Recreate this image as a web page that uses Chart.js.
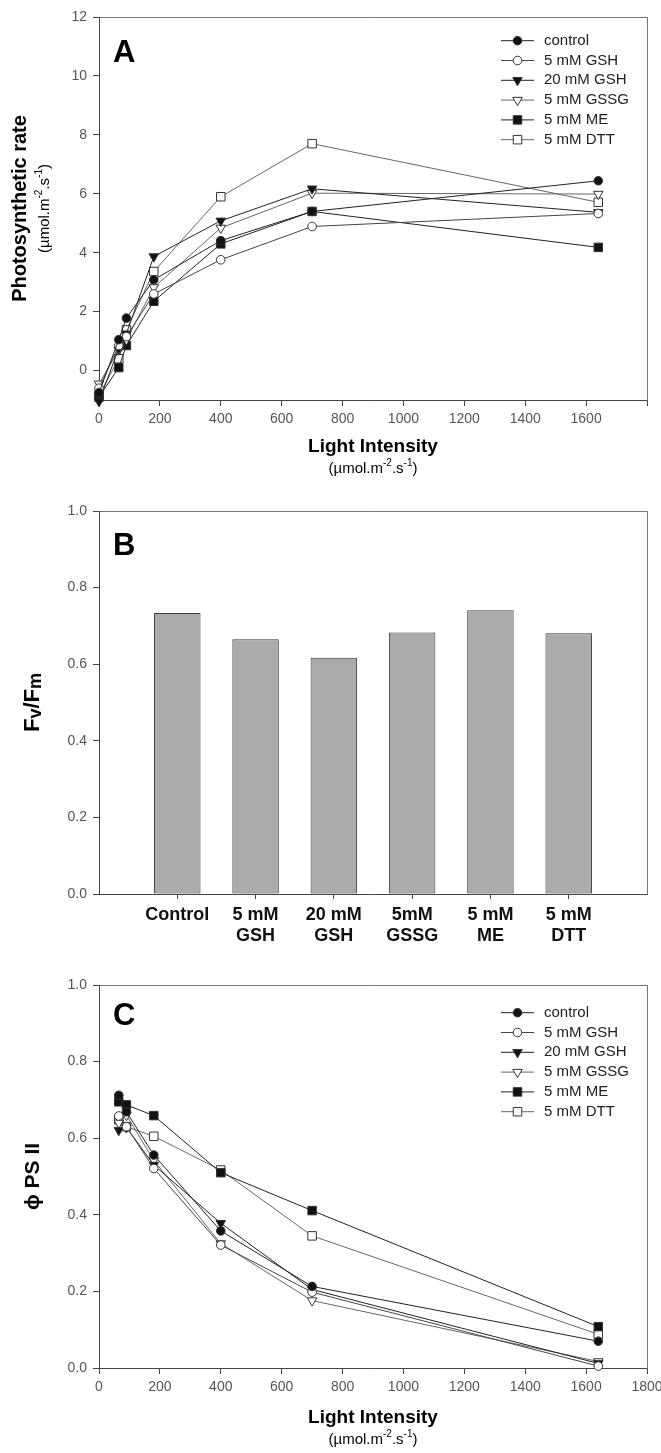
<!DOCTYPE html>
<html>
<head>
<meta charset="utf-8">
<script src="https://cdn.jsdelivr.net/npm/chart.js@4.4.1/dist/chart.umd.min.js"></script>
<style>
  body { margin: 0; background: #fff; }
  #wrap { position: relative; width: 661px; height: 1453px; background: #fff; }
  canvas { position: absolute; left: 0; }
</style>
</head>
<body>
<div id="wrap">
  <canvas id="chartA" width="661" height="480" style="top:0"></canvas>
  <canvas id="chartB" width="661" height="480" style="top:480px"></canvas>
  <canvas id="chartC" width="661" height="493" style="top:960px"></canvas>
</div>
<script>
// ---- data ----
const seriesNames = ["control", "5 mM GSH", "20 mM GSH", "5 mM GSSG", "5 mM ME", "5 mM DTT"];

// panel A: photosynthetic rate vs light
const lightA = [0, 65, 90, 180, 400, 700, 1640];
const rateControl = [-0.75, 1.05, 1.78, 3.08, 4.41, 5.40, 6.44];
const rateGsh5    = [-0.60, 0.85, 1.15, 2.60, 3.76, 4.89, 5.33];
const rateGsh20   = [-1.05, 0.75, 1.25, 3.87, 5.08, 6.17, 5.37];
const rateGssg    = [-0.45, 0.70, 1.05, 2.82, 4.84, 6.02, 5.99];
const rateMe      = [-0.90, 0.10, 0.85, 2.35, 4.30, 5.40, 4.18];
const rateDtt     = [-0.83, 0.40, 1.38, 3.36, 5.90, 7.70, 5.71];

// panel B: Fv/Fm
const barCategories = [["Control"], ["5 mM", "GSH"], ["20 mM", "GSH"], ["5mM", "GSSG"], ["5 mM", "ME"], ["5 mM", "DTT"]];
const fvFm = [0.734, 0.665, 0.617, 0.683, 0.741, 0.681];

// panel C: phi PSII vs light
const lightC = [65, 90, 180, 400, 700, 1640];
const psiiControl = [0.712, 0.669, 0.556, 0.358, 0.213, 0.070];
const psiiGsh5    = [0.658, 0.630, 0.521, 0.321, 0.198, 0.005];
const psiiGsh20   = [0.621, 0.628, 0.530, 0.378, 0.205, 0.012];
const psiiGssg    = [0.640, 0.660, 0.542, 0.325, 0.176, 0.017];
const psiiMe      = [0.695, 0.687, 0.659, 0.510, 0.411, 0.108];
const psiiDtt     = [0.648, 0.630, 0.605, 0.517, 0.345, 0.088];

const lightTicksA = [0, 200, 400, 600, 800, 1000, 1200, 1400, 1600];

// ---- styling ----
const FONT = "'Liberation Sans', Arial, sans-serif";
const markers = [
  { style: "circle",   rot: 0,   r: 4.3, fill: "#111", line: "#222" },
  { style: "circle",   rot: 0,   r: 4.3, fill: "#fff", line: "#444" },
  { style: "triangle", rot: 180, r: 5.5, fill: "#111", line: "#222" },
  { style: "triangle", rot: 180, r: 5.5, fill: "#fff", line: "#666" },
  { style: "rect",     rot: 0,   r: 6,   fill: "#111", line: "#222" },
  { style: "rect",     rot: 0,   r: 6,   fill: "#fff", line: "#666" }
];

Chart.defaults.animation = false;
Chart.defaults.font.family = FONT;

function drawMarker(ctx, m, x, y) {
  ctx.save();
  ctx.beginPath();
  if (m.style === "circle") {
    ctx.arc(x, y, m.r, 0, Math.PI * 2);
  } else if (m.style === "rect") {
    const s = Math.SQRT1_2 * m.r;
    ctx.rect(x - s, y - s, 2 * s, 2 * s);
  } else {
    let rad = m.rot * Math.PI / 180;
    ctx.moveTo(x + Math.sin(rad) * m.r, y - Math.cos(rad) * m.r);
    rad += 2 * Math.PI / 3;
    ctx.lineTo(x + Math.sin(rad) * m.r, y - Math.cos(rad) * m.r);
    rad += 2 * Math.PI / 3;
    ctx.lineTo(x + Math.sin(rad) * m.r, y - Math.cos(rad) * m.r);
    ctx.closePath();
  }
  ctx.fillStyle = m.fill;
  ctx.fill();
  ctx.lineWidth = 1;
  ctx.strokeStyle = "#333";
  ctx.stroke();
  ctx.restore();
}

// text with super/subscripts, centred on (cx, cy)
function drawRich(ctx, parts, cx, cy) {
  let w = 0;
  parts.forEach(p => { ctx.font = p.f; w += ctx.measureText(p.t).width; });
  let x = cx - w / 2;
  ctx.textAlign = "left";
  ctx.textBaseline = "middle";
  parts.forEach(p => {
    ctx.font = p.f;
    ctx.fillText(p.t, x, cy + (p.dy || 0));
    x += ctx.measureText(p.t).width;
  });
}

const unitParts = [
  { t: "(µmol.m", f: "15px " + FONT },
  { t: "-2", f: "10px " + FONT, dy: -6 },
  { t: ".s", f: "15px " + FONT },
  { t: "-1", f: "10px " + FONT, dy: -6 },
  { t: ")", f: "15px " + FONT }
];

// panel decorations: frame, letter, axis titles, legend
function decor(cfg) {
  return {
    id: "decor",
    afterDraw(chart) {
      const ctx = chart.ctx;
      const a = chart.chartArea;
      ctx.save();
      ctx.strokeStyle = "#777";
      ctx.lineWidth = 1;
      ctx.beginPath();
      ctx.moveTo(Math.round(a.left) + 0.5, Math.round(a.top) + 0.5);
      ctx.lineTo(Math.round(a.right) + 0.5, Math.round(a.top) + 0.5);
      ctx.lineTo(Math.round(a.right) + 0.5, Math.round(a.bottom) + 0.5);
      ctx.stroke();

      ctx.fillStyle = "#000";
      ctx.font = "bold 31px " + FONT;
      ctx.textAlign = "left";
      ctx.textBaseline = "alphabetic";
      ctx.fillText(cfg.letter, 113, cfg.letterY);

      const midY = (a.top + a.bottom) / 2;
      cfg.yTitles.forEach(t => {
        ctx.save();
        ctx.translate(t.x, midY);
        ctx.rotate(-Math.PI / 2);
        ctx.fillStyle = "#000";
        drawRich(ctx, t.parts, 0, 0);
        ctx.restore();
      });

      if (cfg.xTitleY) {
        const midX = (a.left + a.right) / 2;
        ctx.fillStyle = "#000";
        drawRich(ctx, [{ t: "Light Intensity", f: "bold 19px " + FONT }], midX, cfg.xTitleY);
        drawRich(ctx, unitParts, midX, cfg.xTitleY + 22);
      }

      if (cfg.legendY) {
        seriesNames.forEach((name, i) => {
          const y = cfg.legendY + i * 19.8;
          const m = markers[i];
          ctx.strokeStyle = m.line;
          ctx.lineWidth = 1;
          ctx.beginPath();
          ctx.moveTo(501, y);
          ctx.lineTo(534, y);
          ctx.stroke();
          drawMarker(ctx, m, 517.5, y);
          ctx.fillStyle = "#222";
          ctx.font = "15px " + FONT;
          ctx.textAlign = "left";
          ctx.textBaseline = "middle";
          ctx.fillText(name, 544, y);
        });
      }
      ctx.restore();
    }
  };
}

function lineSets(xs, seriesList) {
  return seriesList.map((ys, i) => {
    const m = markers[i];
    return {
      label: seriesNames[i],
      data: xs.map((x, j) => ({ x: x, y: ys[j] })),
      showLine: true,
      borderColor: m.line,
      borderWidth: 1,
      pointStyle: m.style,
      pointRotation: m.rot,
      pointRadius: m.r,
      pointHoverRadius: m.r,
      pointBackgroundColor: m.fill,
      pointBorderColor: "#333",
      pointBorderWidth: 1,
      tension: 0,
      fill: false,
      clip: false
    };
  });
}

const tickFont = { size: 14, family: FONT };
const tickColor = "#555";
const axisGrid = { drawOnChartArea: false, drawTicks: true, tickLength: 6, color: "#444", offset: false };
const axisBorder = { display: true, color: "#444", width: 1 };

// x axis: fixed height, let the last label run past the frame like the original
function fitX(h) {
  return s => { s.height = h; s.paddingRight = 0; s.paddingLeft = 0; };
}

// ---- panel A ----
new Chart(document.getElementById("chartA"), {
  type: "scatter",
  data: { datasets: lineSets(lightA, [rateControl, rateGsh5, rateGsh20, rateGssg, rateMe, rateDtt]) },
  options: {
    responsive: false,
    layout: { padding: { top: 17, right: 14, left: 0, bottom: 0 } },
    plugins: { legend: { display: false }, tooltip: { enabled: false } },
    scales: {
      x: {
        type: "linear", min: 0, max: 1800,
        ticks: { stepSize: 200, font: tickFont, color: tickColor, padding: 5,
          callback: v => lightTicksA.includes(v) ? String(v) : "" },
        grid: axisGrid, border: axisBorder,
        afterFit: fitX(80)
      },
      y: {
        min: -1, max: 12,
        ticks: { stepSize: 2, font: tickFont, color: tickColor, padding: 6, callback: v => String(v) },
        afterBuildTicks: s => { s.ticks = s.ticks.filter(t => t.value >= 0); },
        grid: axisGrid, border: axisBorder,
        afterFit: s => { s.width = 99; }
      }
    }
  },
  plugins: [decor({
    letter: "A", letterY: 62,
    yTitles: [
      { x: 20, parts: [{ t: "Photosynthetic rate", f: "bold 20px " + FONT }] },
      { x: 45, parts: unitParts }
    ],
    xTitleY: 447, legendY: 40.7
  })]
});

// ---- panel B ----
new Chart(document.getElementById("chartB"), {
  type: "bar",
  data: {
    datasets: [{
      label: "Fv/Fm",
      data: fvFm.map((v, i) => ({ x: i + 1, y: v })),
      backgroundColor: "#ababab",
      borderColor: "#3a3a3a",
      borderWidth: 1,
      borderSkipped: false,
      categoryPercentage: 1,
      barPercentage: 0.594
    }]
  },
  options: {
    responsive: false,
    layout: { padding: { top: 31, right: 14, left: 0, bottom: 0 } },
    plugins: { legend: { display: false }, tooltip: { enabled: false } },
    scales: {
      x: {
        type: "linear", min: 0, max: 7, offset: false,
        afterBuildTicks: s => { s.ticks = barCategories.map((c, i) => ({ value: i + 1 })); },
        ticks: { autoSkip: false, maxRotation: 0, padding: 5, color: "#111",
          font: { size: 18, weight: "bold", family: FONT, lineHeight: 1.2 },
          callback: v => barCategories[Math.round(v) - 1] },
        grid: Object.assign({}, axisGrid, { tickLength: 5 }), border: axisBorder,
        afterFit: fitX(66)
      },
      y: {
        min: 0, max: 1,
        ticks: { stepSize: 0.2, font: tickFont, color: tickColor, padding: 6, callback: v => v.toFixed(1) },
        grid: axisGrid, border: axisBorder,
        afterFit: s => { s.width = 99; }
      }
    }
  },
  plugins: [decor({
    letter: "B", letterY: 75,
    yTitles: [{ x: 33, parts: [
      { t: "F", f: "bold 22px " + FONT },
      { t: "v", f: "bold 18px " + FONT, dy: 3 },
      { t: "/F", f: "bold 22px " + FONT },
      { t: "m", f: "bold 18px " + FONT, dy: 3 }
    ] }]
  })]
});

// ---- panel C ----
new Chart(document.getElementById("chartC"), {
  type: "scatter",
  data: { datasets: lineSets(lightC, [psiiControl, psiiGsh5, psiiGsh20, psiiGssg, psiiMe, psiiDtt]) },
  options: {
    responsive: false,
    layout: { padding: { top: 25, right: 14, left: 0, bottom: 0 } },
    plugins: { legend: { display: false }, tooltip: { enabled: false } },
    scales: {
      x: {
        type: "linear", min: 0, max: 1800,
        ticks: { stepSize: 200, font: tickFont, color: tickColor, padding: 5, callback: v => String(v) },
        grid: axisGrid, border: axisBorder,
        afterFit: fitX(85)
      },
      y: {
        min: 0, max: 1,
        ticks: { stepSize: 0.2, font: tickFont, color: tickColor, padding: 6, callback: v => v.toFixed(1) },
        grid: axisGrid, border: axisBorder,
        afterFit: s => { s.width = 99; }
      }
    }
  },
  plugins: [decor({
    letter: "C", letterY: 65,
    yTitles: [{ x: 33, parts: [{ t: "ϕ PS II", f: "bold 21px " + FONT }] }],
    xTitleY: 458, legendY: 52.7
  })]
});
</script>
</body>
</html>
